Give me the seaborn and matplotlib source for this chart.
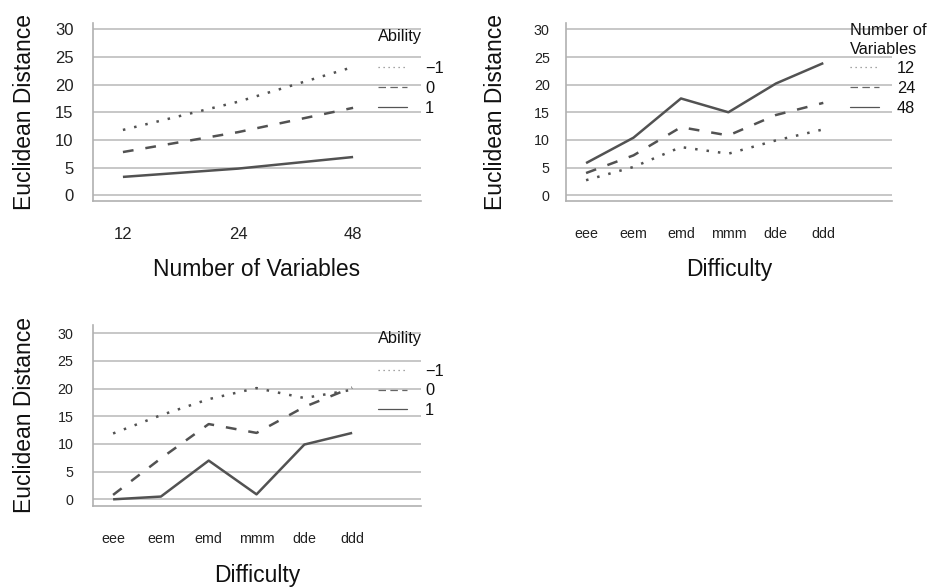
import pandas as pd
import seaborn as sns
import matplotlib.pyplot as plt
from matplotlib.lines import Line2D

# Category levels
ability_levels = ["−1", "0", "1"]
nvar_levels = ["12", "24", "48"]
difficulty_levels = ["eee", "eem", "emd", "mmm", "dde", "ddd"]

# Panel A: distance by number of variables, one line per ability
nv_ability_m1 = [11.8, 16.9, 23.2]
nv_ability_0 = [7.8, 11.4, 15.8]
nv_ability_1 = [3.3, 4.8, 6.9]

# Panel B: distance by difficulty, one line per number of variables
df_nvars_12 = [2.7, 5.1, 8.7, 7.5, 9.9, 11.9]
df_nvars_24 = [4.0, 7.2, 12.3, 10.8, 14.5, 16.7]
df_nvars_48 = [5.8, 10.4, 17.5, 15.0, 20.2, 23.9]

# Panel C: distance by difficulty, one line per ability
df_ability_m1 = [11.9, 15.2, 18.1, 20.1, 18.3, 19.8]
df_ability_0 = [0.8, 7.4, 13.6, 12.0, 16.7, 20.2]
df_ability_1 = [0.0, 0.5, 7.0, 0.9, 9.9, 12.0]

y_ticks = [0, 5, 10, 15, 20, 25, 30]


def long_frame(xs, groups, series, xname, gname):
    rows = []
    for g, vals in zip(groups, series):
        for x, v in zip(xs, vals):
            rows.append({xname: x, gname: g, "dist": v})
    return pd.DataFrame(rows)


data_a = long_frame(nvar_levels, ability_levels,
                    [nv_ability_m1, nv_ability_0, nv_ability_1],
                    "nvars", "ability")
data_b = long_frame(difficulty_levels, nvar_levels,
                    [df_nvars_12, df_nvars_24, df_nvars_48],
                    "difficulty", "nvars")
data_c = long_frame(difficulty_levels, ability_levels,
                    [df_ability_m1, df_ability_0, df_ability_1],
                    "difficulty", "ability")

sns.set_theme(style="white")
plt.rcParams["font.family"] = ["Liberation Sans", "DejaVu Sans"]

LINE = "#525252"
GRID = "#bdbdbd"
SPINE = "#b0b0b0"
DOT = (1.0, 3.6)
DASH = (4.3, 4.8)

fig = plt.figure(figsize=(9.3, 5.88), dpi=100)
ax_a = fig.add_axes([0.100, 0.658, 0.3527, 0.3027])
ax_b = fig.add_axes([0.609, 0.658, 0.3505, 0.3027])
ax_c = fig.add_axes([0.100, 0.1395, 0.3527, 0.3078])


def draw(ax, data, x, group, levels, xlim, ylim, tick_fs, ypad, xlabel,
         ylab_x, title, title_y, leg_y):
    sns.lineplot(data=data, x=x, y="dist", hue=group, style=group,
                 hue_order=levels, style_order=levels,
                 palette=[LINE] * 3,
                 dashes={levels[0]: DOT, levels[1]: DASH, levels[2]: ""},
                 linewidth=1.8, sort=False, legend=False, ax=ax)
    for ln in ax.lines:
        ln.set_solid_capstyle("butt")
    ax.set_xlim(*xlim)
    ax.set_ylim(*ylim)
    ax.set_yticks(y_ticks)
    ax.grid(axis="y", color=GRID, linewidth=1.2)
    ax.grid(axis="x", visible=False)
    ax.set_axisbelow(True)
    for s in ("top", "right"):
        ax.spines[s].set_visible(False)
    for s in ("left", "bottom"):
        ax.spines[s].set_color(SPINE)
        ax.spines[s].set_linewidth(1.2)
    ax.tick_params(axis="both", length=0, labelsize=tick_fs, colors="#222222")
    ax.tick_params(axis="y", pad=ypad)
    ax.tick_params(axis="x", pad=19)
    ax.set_ylabel("Euclidean Distance", fontsize=16.5, color="#111111")
    ax.set_xlabel(xlabel, fontsize=16.5, color="#111111")
    ax.yaxis.set_label_coords(ylab_x, 0.5)
    ax.xaxis.set_label_coords(0.5, -0.32)

    handles = [
        Line2D([], [], color="#888888", lw=0.9, linestyle=(0, (1, 3))),
        Line2D([], [], color="#666666", lw=0.9, linestyle=(0, (6, 3.5))),
        Line2D([], [], color="#555555", lw=0.9, linestyle="-"),
    ]
    leg = ax.legend(handles, levels, loc="upper left",
                    bbox_to_anchor=(0.87, leg_y), frameon=False,
                    fontsize=11.8, handlelength=1.75, handletextpad=1.1,
                    labelspacing=0.29, borderaxespad=0, borderpad=0)
    for t in leg.get_texts():
        t.set_color("#111111")
    ax.text(0.87, title_y, title, transform=ax.transAxes, fontsize=11.8,
            ha="left", va="center", color="#111111", linespacing=1.3)


draw(ax_a, data_a, "nvars", "ability", ability_levels,
     (-0.26, 2.59), (-1.08, 31.14), 12, 14, "Number of Variables",
     -0.175, "Ability", 0.925, 0.787)
draw(ax_b, data_b, "difficulty", "nvars", nvar_levels,
     (-0.415, 6.455), (-1.08, 31.14), 10.3, 12, "Difficulty",
     -0.182, "Number of\nVariables", 0.905, 0.787)
draw(ax_c, data_c, "difficulty", "ability", ability_levels,
     (-0.42, 6.44), (-1.2, 31.5), 10.3, 14, "Difficulty",
     -0.175, "Ability", 0.925, 0.787)

fig.savefig("out.png", dpi=100)
